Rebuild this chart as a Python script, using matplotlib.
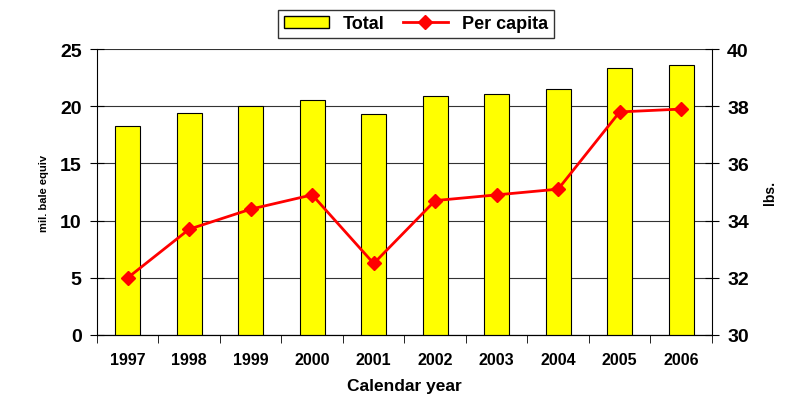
import numpy as np
import matplotlib.pyplot as plt
from matplotlib.lines import Line2D
from matplotlib.patches import Patch

plt.rcParams['font.family'] = ['Liberation Sans', 'DejaVu Sans']
plt.rcParams['font.weight'] = 'bold'
plt.rcParams['axes.labelweight'] = 'bold'

# Data
years = ['1997', '1998', '1999', '2000', '2001', '2002', '2003', '2004', '2005', '2006']
total = [18.3, 19.4, 20.0, 20.5, 19.3, 20.9, 21.1, 21.5, 23.3, 23.6]
per_capita = [32.0, 33.7, 34.4, 34.9, 32.5, 34.7, 34.9, 35.1, 37.8, 37.9]

fig = plt.figure(figsize=(7.91, 4.02), dpi=100)
ax = fig.add_axes([0.1226, 0.1642, 0.7774, 0.7114])
x = np.arange(len(years))

# Bars on the left axis
ax.bar(x, total, width=0.41, color='#ffff00', edgecolor='black', linewidth=0.8, zorder=3)
ax.set_xlim(-0.5, len(years) - 0.5)
ax.set_ylim(0, 25)
ax.set_yticks([0, 5, 10, 15, 20, 25])
ax.yaxis.grid(True, color='#333333', linewidth=0.8, zorder=0)
ax.set_axisbelow(True)
ax.tick_params(axis='y', direction='inout', length=10, labelsize=14, pad=6)
ax.set_xticks(x)
ax.set_xticklabels(years, fontsize=11.5)
ax.tick_params(axis='x', length=0, pad=12)
ax.set_xticks(np.arange(-0.5, len(years)), minor=True)
ax.tick_params(axis='x', which='minor', direction='out', length=6)
ax.spines['top'].set_visible(False)
ax.spines['right'].set_visible(False)
ax.set_ylabel('mil. bale equiv', fontsize=8, labelpad=8)
ax.set_xlabel('Calendar year', fontsize=12.5, labelpad=8)

# Line on the right axis
ax2 = ax.twinx()
ax2.plot(x, per_capita, color='red', linewidth=2, marker='D', markersize=7, zorder=4)
ax2.set_ylim(30, 40)
ax2.set_yticks([30, 32, 34, 36, 38, 40])
ax2.tick_params(axis='y', direction='inout', length=10, labelsize=14, pad=6)
ax2.spines['top'].set_visible(False)
ax2.spines['left'].set_visible(False)
ax2.set_ylabel('lbs.', fontsize=10, labelpad=10)

# Legend
handles = [Patch(facecolor='#ffff00', edgecolor='black'),
           Line2D([], [], color='red', linewidth=2, marker='D', markersize=7)]
fig.legend(handles, ['Total', 'Per capita'], loc='upper center', bbox_to_anchor=(0.526, 0.995),
           ncol=2, fontsize=13, frameon=True, fancybox=False, edgecolor='black',
           handlelength=2.5, borderpad=0.3, columnspacing=1.0)

fig.savefig('out.png', dpi=100)
